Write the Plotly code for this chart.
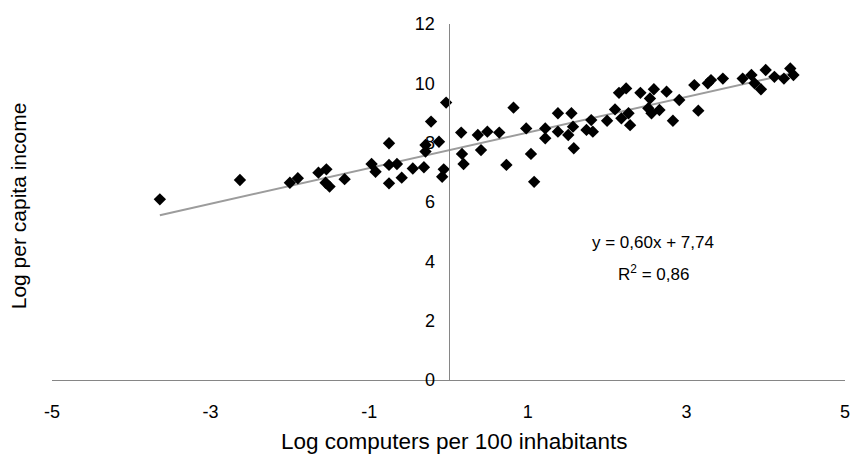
import plotly.graph_objects as go

# Data
log_computers = [
    -3.64, -2.63, -2.00, -1.90, -1.64, -1.54, -1.55, -1.50, -1.31, -0.97,
    -0.92, -0.75, -0.75, -0.75, -0.65, -0.59, -0.45, -0.31, -0.29, -0.29,
    -0.22, -0.12, -0.06, -0.08, -0.03, 0.16, 0.17, 0.19, 0.37, 0.41,
    0.49, 0.64, 0.82, 0.73, 0.98, 1.04, 1.08, 1.22, 1.22, 1.38,
    1.38, 1.55, 1.51, 1.57, 1.58, 1.74, 1.82, 1.80, 2.00, 2.10,
    2.15, 2.24, 2.18, 2.27, 2.29, 2.42, 2.54, 2.59, 2.52, 2.56,
    2.66, 2.75, 2.83, 2.91, 3.10, 3.27, 3.31, 3.46, 3.15, 3.71,
    3.82, 3.86, 3.94, 4.00, 4.11, 4.23, 4.31, 4.35,
]
log_income = [
    6.09, 6.74, 6.65, 6.80, 6.99, 7.10, 6.65, 6.52, 6.77, 7.28,
    7.02, 7.98, 7.25, 6.63, 7.28, 6.82, 7.13, 7.17, 7.92, 7.70,
    8.71, 8.03, 7.10, 6.85, 9.35, 8.34, 7.62, 7.28, 8.26, 7.75,
    8.37, 8.34, 9.18, 7.25, 8.48, 7.62, 6.68, 8.48, 8.15, 8.99,
    8.37, 8.99, 8.26, 8.54, 7.81, 8.43, 8.37, 8.76, 8.74, 9.12,
    9.68, 9.83, 8.82, 8.99, 8.59, 9.68, 9.49, 9.80, 9.16, 8.99,
    9.10, 9.72, 8.74, 9.44, 9.94, 10.00, 10.11, 10.16, 9.08, 10.16,
    10.28, 10.00, 9.80, 10.45, 10.22, 10.16, 10.50, 10.28,
]

slope = 0.60
intercept = 7.74

x_ticks = [-5, -3, -1, 1, 3, 5]
y_ticks = [0, 2, 4, 6, 8, 10, 12]

trend_x = [min(log_computers), max(log_computers)]
trend_y = [slope * v + intercept for v in trend_x]

FONT = "Liberation Sans, Arial, sans-serif"

fig = go.Figure()
fig.add_trace(go.Scatter(
    x=trend_x, y=trend_y, mode="lines",
    line=dict(color="#9c9c9c", width=2),
    hoverinfo="skip", showlegend=False,
))
fig.add_trace(go.Scatter(
    x=log_computers, y=log_income, mode="markers",
    marker=dict(symbol="diamond", size=9.5, color="black", line=dict(width=0)),
    showlegend=False,
))

fig.update_layout(
    width=853, height=456,
    margin=dict(l=52, r=8, t=24, b=76),
    paper_bgcolor="white", plot_bgcolor="white",
    font=dict(family=FONT, size=18, color="black"),
    xaxis=dict(
        range=[-5, 5], tickvals=x_ticks, ticktext=[str(v) for v in x_ticks],
        showline=True, linecolor="#868686", linewidth=1,
        ticks="outside", ticklen=15, tickcolor="rgba(0,0,0,0)",
        showgrid=False, zeroline=False, automargin=False,
        ticklabeloverflow="allow",
        tickfont=dict(size=18),
    ),
    yaxis=dict(
        range=[0, 12], tickvals=y_ticks, ticktext=[str(v) for v in y_ticks],
        anchor="free", position=0.5,
        showline=True, linecolor="#868686", linewidth=1,
        ticks="outside", ticklen=10, tickcolor="rgba(0,0,0,0)",
        showgrid=False, zeroline=False, automargin=False,
        tickfont=dict(size=18),
    ),
    annotations=[
        dict(text="Log computers per 100 inhabitants", xref="paper", yref="paper",
             x=0.5075, y=-0.174, xanchor="center", yanchor="middle",
             showarrow=False, font=dict(size=22.5)),
        dict(text="Log per capita income", xref="paper", yref="paper",
             x=-0.042, y=0.49, xanchor="center", yanchor="middle",
             textangle=-90, showarrow=False, font=dict(size=21)),
        dict(text="y = 0,60x + 7,74", xref="x", yref="y",
             x=2.58, y=4.62, xanchor="center", yanchor="middle",
             showarrow=False, font=dict(size=17)),
        dict(text="R<sup>2</sup> = 0,86", xref="x", yref="y",
             x=2.58, y=3.62, xanchor="center", yanchor="middle",
             showarrow=False, font=dict(size=17)),
    ],
)

# remove the default 8px page margin so the 853x456 figure fills the window
fig.write_html("out.html", config={"displayModeBar": False},
               post_script="document.body.style.margin='0px';")
